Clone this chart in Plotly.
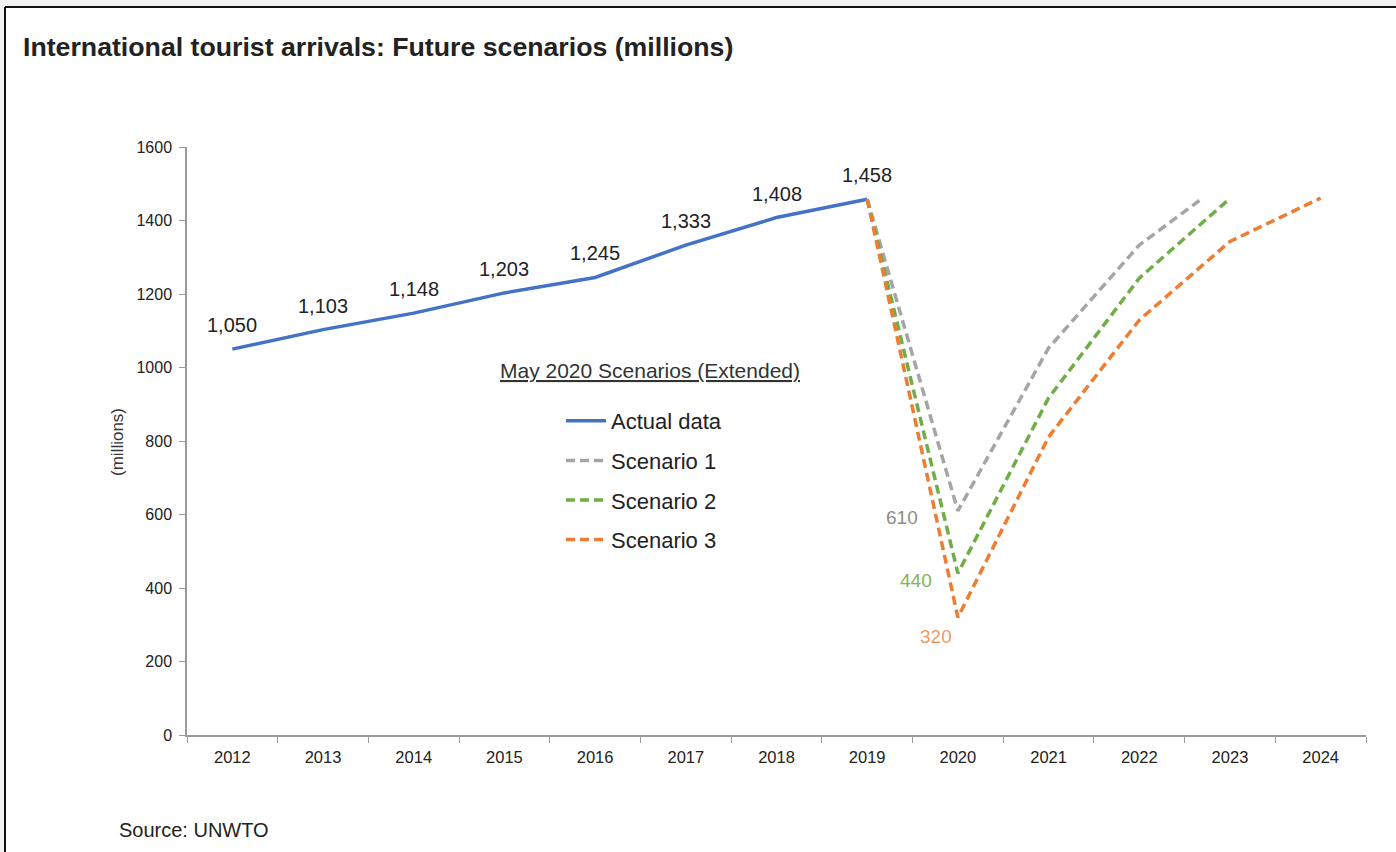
import plotly.graph_objects as go

# ---- data ----
years_actual = [2012, 2013, 2014, 2015, 2016, 2017, 2018, 2019]
actual = [1050, 1103, 1148, 1203, 1245, 1333, 1408, 1458]
actual_labels = ["1,050", "1,103", "1,148", "1,203", "1,245", "1,333", "1,408", "1,458"]

years_s1 = [2019, 2020, 2021, 2022, 2022.7]
scenario1 = [1458, 610, 1053, 1333, 1461]
years_s2 = [2019, 2020, 2021, 2022, 2023]
scenario2 = [1458, 440, 917, 1243, 1460]
years_s3 = [2019, 2020, 2021, 2022, 2023, 2024]
scenario3 = [1458, 320, 811, 1129, 1343, 1461]

tick_years = list(range(2012, 2025))

# ---- layout constants ----
W, H = 1396, 852
ML, MR, MT, MB = 187, 30, 147, 117
PW, PH = W - ML - MR, H - MT - MB

BLUE = "#4472C4"
GRAY = "#A5A5A5"
GREEN = "#70AD47"
ORANGE = "#ED7D31"
FONT = "Liberation Sans, Arial, sans-serif"

fig = go.Figure()
fig.add_trace(go.Scatter(x=years_actual, y=actual, mode="lines", name="Actual data",
                         line=dict(color=BLUE, width=3.5), legendgroup="a"))
fig.add_trace(go.Scatter(x=years_s1, y=scenario1, mode="lines", name="Scenario 1",
                         line=dict(color=GRAY, width=3.5, dash="9px,5px"), legendgroup="b"))
fig.add_trace(go.Scatter(x=years_s2, y=scenario2, mode="lines", name="Scenario 2",
                         line=dict(color=GREEN, width=3.5, dash="9px,5px"), legendgroup="c"))
fig.add_trace(go.Scatter(x=years_s3, y=scenario3, mode="lines", name="Scenario 3",
                         line=dict(color=ORANGE, width=3.5, dash="9px,5px"), legendgroup="d"))

annotations = []
for x, y, t in zip(years_actual, actual, actual_labels):
    annotations.append(dict(x=x, y=y, text=t, showarrow=False, yshift=24,
                            font=dict(size=20, color="#222222", family=FONT)))
# scenario trough labels
annotations.append(dict(x=years_s1[1], y=scenario1[1], text=str(scenario1[1]), showarrow=False,
                        xshift=-56, yshift=-7, font=dict(size=19, color="#8c8c8c", family=FONT)))
annotations.append(dict(x=years_s2[1], y=scenario2[1], text=str(scenario2[1]), showarrow=False,
                        xshift=-42, yshift=-7, font=dict(size=19, color="#7fb55a", family=FONT)))
annotations.append(dict(x=years_s3[1], y=scenario3[1], text=str(scenario3[1]), showarrow=False,
                        xshift=-22, yshift=-19, font=dict(size=19, color="#f09a60", family=FONT)))

def px_x(p):
    return (p - ML) / PW

def px_y(p):
    return (H - MB - p) / PH

# title, legend title, axis title, source
annotations.append(dict(xref="paper", yref="paper", x=px_x(21), y=px_y(47), xanchor="left",
                        yanchor="middle", showarrow=False,
                        text="<b>International tourist arrivals: Future scenarios (millions)</b>",
                        font=dict(size=26.7, color="#222222", family=FONT)))
annotations.append(dict(xref="paper", yref="paper", x=px_x(650), y=px_y(370), xanchor="center",
                        yanchor="middle", showarrow=False,
                        text="<u>May 2020 Scenarios (Extended)</u>",
                        font=dict(size=21, color="#333333", family=FONT)))
annotations.append(dict(xref="paper", yref="paper", x=px_x(117), y=px_y(442), xanchor="center",
                        yanchor="middle", showarrow=False, textangle=-90, text="(millions)",
                        font=dict(size=17, color="#333333", family=FONT)))
annotations.append(dict(xref="paper", yref="paper", x=px_x(117), y=px_y(830), xanchor="left",
                        yanchor="middle", showarrow=False, text="Source: UNWTO",
                        font=dict(size=20, color="#222222", family=FONT)))

shapes = [
    # outer light band + frame
    dict(type="rect", xref="paper", yref="paper", x0=px_x(0), x1=px_x(W), y0=px_y(0), y1=px_y(7),
         fillcolor="#f2f2f2", line=dict(width=0), layer="below"),
    dict(type="rect", xref="paper", yref="paper", x0=px_x(0), x1=px_x(5), y0=px_y(0), y1=px_y(H),
         fillcolor="#f2f2f2", line=dict(width=0), layer="below"),
    dict(type="line", xref="paper", yref="paper", x0=px_x(5), x1=px_x(W + 5), y0=px_y(7), y1=px_y(7),
         line=dict(color="#111111", width=2)),
    dict(type="line", xref="paper", yref="paper", x0=px_x(5), x1=px_x(5), y0=px_y(7), y1=px_y(H + 5),
         line=dict(color="#111111", width=2)),
]

fig.update_layout(
    width=W, height=H,
    margin=dict(l=ML, r=MR, t=MT, b=MB),
    paper_bgcolor="white", plot_bgcolor="white",
    font=dict(family=FONT, color="#333333"),
    showlegend=True,
    legend=dict(x=px_x(561), y=px_y(400), xanchor="left", yanchor="top",
                traceorder="grouped", tracegroupgap=8, bgcolor="rgba(0,0,0,0)",
                font=dict(size=22, color="#222222", family=FONT), itemwidth=40),
    xaxis=dict(range=[2011.5, 2024.5], tickvals=tick_years, ticktext=[str(y) for y in tick_years],
               ticks="", showgrid=False, zeroline=False, showline=True, linecolor="#9a9a9a",
               linewidth=1.5, tickfont=dict(size=16.5, color="#222222"), ticklabelstandoff=6,
               minor=dict(ticks="outside", tick0=2011.5, dtick=1, ticklen=6, tickcolor="#9a9a9a",
                          showgrid=False)),
    yaxis=dict(range=[0, 1600], dtick=200, ticks="outside", ticklen=6, tickcolor="#9a9a9a",
               showgrid=False, zeroline=False, showline=True, linecolor="#9a9a9a", linewidth=1.5,
               tickfont=dict(size=16, color="#222222"), ticklabelstandoff=4),
    annotations=annotations,
    shapes=shapes,
)

fig.write_html("out.html")
